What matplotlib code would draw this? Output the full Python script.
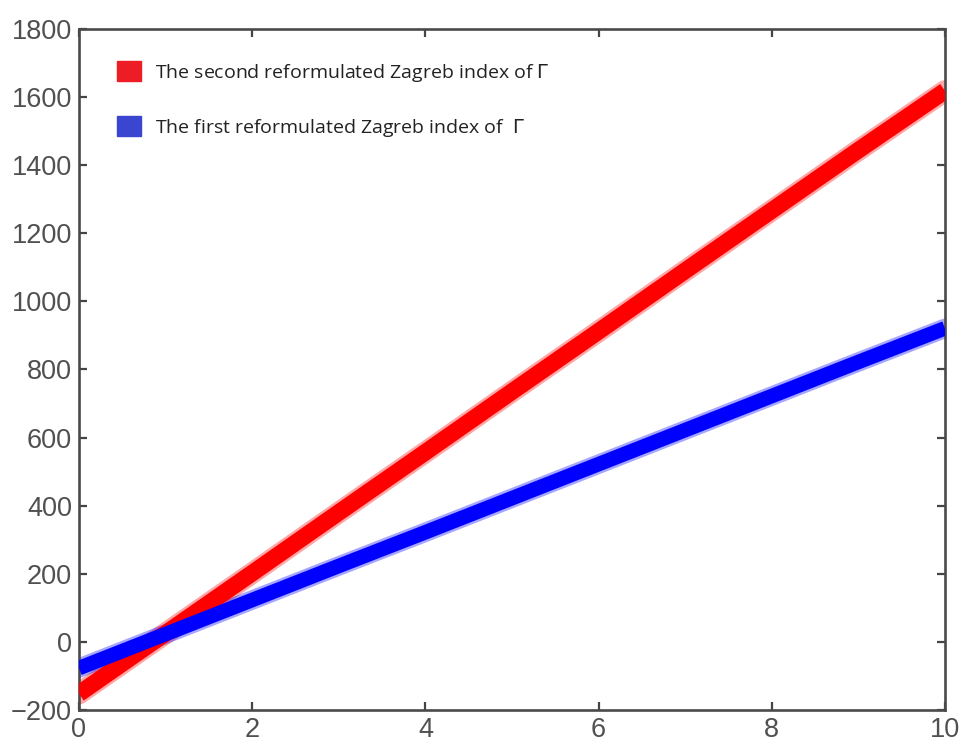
import numpy as np
import matplotlib.pyplot as plt
from matplotlib.patches import Patch

# values at integer x
x = [0, 1, 2, 3, 4, 5, 6, 7, 8, 9, 10]
second_zagreb = [-152, 25, 202, 380, 557, 735, 912, 1090, 1267, 1444, 1618]
first_zagreb = [-77, 23, 123, 223, 322, 422, 522, 622, 722, 822, 921]

label_second = 'The second reformulated Zagreb index of $\\Gamma$'
label_first = 'The first reformulated Zagreb index of  $\\Gamma$'

plt.rcParams['font.family'] = ['Liberation Sans', 'DejaVu Sans']

fig = plt.figure(figsize=(9.62, 7.51), dpi=100)
ax = fig.add_axes([0.0821, 0.0546, 0.9002, 0.9068])

# fuzzy halo + solid core to mimic the dense star markers
ax.plot(x, second_zagreb, color='#ff0000', linewidth=15.5, alpha=0.35,
        solid_capstyle='round', zorder=2)
ax.plot(x, second_zagreb, color='#ff0000', linewidth=12,
        solid_capstyle='butt', zorder=3)
ax.plot(x, first_zagreb, color='#0000ff', linewidth=14, alpha=0.35,
        solid_capstyle='round', zorder=2)
ax.plot(x, first_zagreb, color='#0000ff', linewidth=10.5,
        solid_capstyle='butt', zorder=3)

ax.set_xlim(0, 10)
ax.set_ylim(-200, 1800)
ax.set_xticks(np.arange(0, 11, 2))
ax.set_yticks(np.arange(-200, 1801, 200))

ax.tick_params(direction='in', length=6, width=1.6, color='#454545',
               labelsize=19.5, labelcolor='#505050', top=True, right=True,
               pad=5)
for sp in ax.spines.values():
    sp.set_linewidth(1.9)
    sp.set_color('#4a4a4a')

handles = [Patch(facecolor='#ee1c25', edgecolor='#ee1c25'),
           Patch(facecolor='#3a45d0', edgecolor='#3a45d0')]
leg = ax.legend(handles, [label_second, label_first], loc='upper left',
                bbox_to_anchor=(0.0439, 0.953), frameon=False,
                handlelength=1.24, handleheight=1.2, handletextpad=0.7,
                labelspacing=1.69, borderaxespad=0, borderpad=0,
                prop={'family': 'Open Sans', 'size': 14})
for t in leg.get_texts():
    t.set_color('#222222')

fig.savefig('out.png', dpi=100)
